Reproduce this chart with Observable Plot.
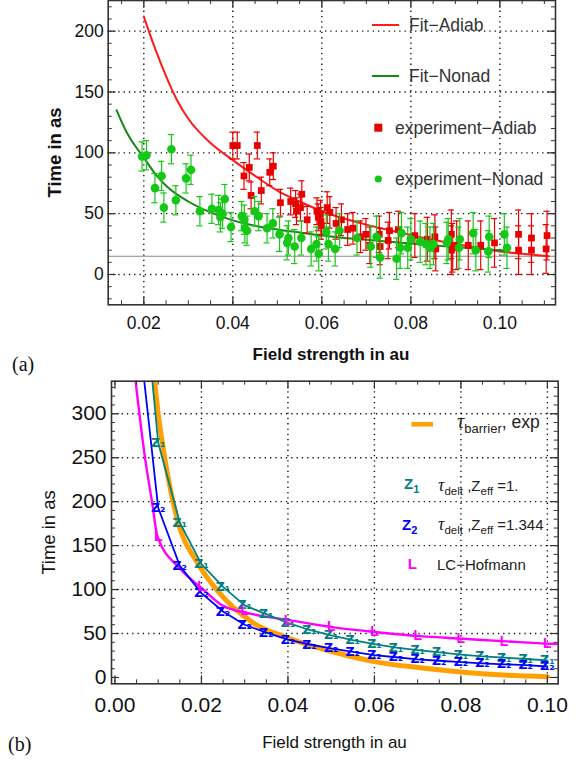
<!DOCTYPE html>
<html><head><meta charset="utf-8">
<script src="https://cdn.jsdelivr.net/npm/d3@7"></script>
<script src="https://cdn.jsdelivr.net/npm/@observablehq/plot@0.6"></script>
<style>
html,body{margin:0;padding:0;background:#fff;}
#wrap{position:relative;width:580px;height:768px;overflow:hidden;font-family:"Liberation Sans",Arial,sans-serif;}
#wrap > svg{position:absolute;left:0;}
</style></head><body><div id="wrap"></div>
<script>
// ---------- Panel (a) data ----------
const redF = [0.0400,0.0410,0.0425,0.0437,0.0441,0.0455,0.0464,0.0483,0.0491,0.0507,0.0530,0.0541,0.0543,0.0552,0.0555,0.0567,0.0589,0.0592,0.0597,0.0598,0.0599,0.0612,0.0618,0.0632,0.0644,0.0658,0.0670,0.0687,0.0699,0.0708,0.0729,0.0731,0.0749,0.0752,0.0772,0.0809,0.0837,0.0854,0.0856,0.0891,0.0891,0.0894,0.0903,0.0929,0.0957,0.0988,0.1042,0.1042,0.1071,0.1071,0.1104,0.1106];
const redT = [106,106,81,88,65,106,69,84,89,59,60,58,52,55,66,45,52,47,50,44,40,55,51,42,45,37,38,31,33,24,33,23,28,36,37,32,29,31,21,20,33,22,24,24,24,26,33,20,30,20,21,32];
const redErr = [11,11,11,11,11,11,11,11,11,11,11,11,11,11,11,11,11,11,11,11,11,13,13,13,13,13,13,13,13,15,15,15,15,15,15,18,18,18,18,20,20,20,20,20,20,20,20,20,20,20,20,20];

const greenF = [0.0196,0.0206,0.0225,0.0240,0.0245,0.0262,0.0272,0.0295,0.0306,0.0326,0.0353,0.0368,0.0372,0.0377,0.0382,0.0396,0.0420,0.0426,0.0427,0.0432,0.0449,0.0458,0.0477,0.0490,0.0505,0.0522,0.0525,0.0539,0.0554,0.0576,0.0588,0.0593,0.0610,0.0615,0.0630,0.0640,0.0679,0.0710,0.0723,0.0731,0.0768,0.0776,0.0779,0.0793,0.0800,0.0821,0.0834,0.0843,0.0851,0.0881,0.0884,0.0908,0.0910,0.0940,0.0946,0.0974,0.0976,0.1010,0.1016];
const greenT = [97,98,71,81,55,103,61,79,86,52,54,53,47,50,62,39,48,45,38,36,52,48,38,42,33,26,30,23,30,21,25,17,35,25,21,36,30,23,31,14,13,22,34,22,29,27,25,22,25,26,29,22,29,34,20,19,31,33,22];
const greenErr = [12,12,12,12,12,12,12,12,12,12,12,12,12,12,12,12,12,12,12,12,12,12,12,12,14,14,14,14,14,14,14,14,14,14,14,14,14,17,17,17,17,17,17,17,17,17,17,17,17,17,17,17,17,17,17,17,17,17,17];

const fitAdiabF = [0.020,0.0225,0.025,0.0275,0.030,0.035,0.040,0.045,0.050,0.055,0.060,0.065,0.070,0.075,0.080,0.085,0.090,0.095,0.100,0.105,0.111];
const fitAdiabT = [212,186,163,143,128,108,94,81,69,60,52,46,41,36.5,32.5,28.5,25,22,19,17,15];
const fitNonadF = [0.0139,0.016,0.018,0.020,0.0225,0.025,0.030,0.035,0.040,0.045,0.050,0.055,0.060,0.065,0.070,0.080,0.090,0.100,0.102];
const fitNonadT = [135,118,106,96,83,73,60,51,44.5,40,37,34.5,32,30,28.5,25.5,22.5,20,19.5];
const baselineA = [15];

const xTicksA = [0.02,0.04,0.06,0.08,0.10];
const yTicksA = [0,50,100,150,200];

// ---------- Panel (b) data ----------
const stepF = [0.010,0.015,0.020,0.025,0.030,0.035,0.040,0.045,0.050,0.055,0.060,0.065,0.070,0.075,0.080,0.085,0.090,0.095,0.100];
const z1T = [267,176,129,103,82,72,62,54,48,42.5,38,34,31,28.5,26,24,22.5,21,19.5];
const z2T = [193,127,96,75,60,51,43,37.5,33,29,25.5,23,20.5,19,17.5,16,15,14,12.5];
const z1LeadF = 0.0085, z1LeadT = 345;
const z2LeadF = 0.0066, z2LeadT = 345;

const barrierF = [0.0091,0.0100,0.0113,0.0144,0.0190,0.0240,0.0317,0.0406,0.0506,0.0606,0.0706,0.0806,0.0907,0.1000];
const barrierT = [340,300,256,180,131,97,63,44,29,17.5,11,6,2.5,0.8];

const hofF = [0.0047,0.0070,0.0086,0.0098,0.0148,0.0202,0.0248,0.0310,0.0406,0.0506,0.0606,0.0706,0.0806,0.0907,0.1007,0.1025];
const hofT = [340,248,199,161,125,101,82,73,65,57,51.5,47,44,41,38.3,38];
const hofMarkF = [0.01,0.02,0.03,0.04,0.05,0.06,0.07,0.08,0.09,0.10];
const hofMarkT = [160,104,76,65,58,52,47.5,44,41,38.5];

const xTicksB = [0.00,0.02,0.04,0.06,0.08,0.10];
const yTicksB = [0,50,100,150,200,250,300];

// ---------- colours ----------
const cRedLine = "#ff1a1a", cRed = "#e80000", cGreenLine = "#148a14", cGreen = "#16c816";
const cOrange = "#ffa000", cTeal = "#008080", cBlue = "#0000ff", cMag = "#ff00ff";
const frameC = "#333";
const gridStyle = {stroke:"#111", strokeOpacity:1, strokeWidth:1.4, strokeDasharray:"1.3,4"};

const zip = (F, T, E) => F.map((f,i) => ({f, t:T[i], e: E ? E[i] : 0}));
const redPts = zip(redF, redT, redErr);
const greenPts = zip(greenF, greenT, greenErr);
const fitA = zip(fitAdiabF, fitAdiabT);
const fitN = zip(fitNonadF, fitNonadT);

const W = 580;
const capA = 0.0007;

// ---- chart (a) ----
const hA = 375, mtA = 0, mbA = 70.7, mlA = 107.7, mrA = 25;
const ihA = hA - mtA - mbA, iwA = W - mlA - mrA;
const xMinorA = d3.range(0.015, 0.1125, 0.005);
const yMinorA = d3.range(-20, 225, 10);

const chartA = Plot.plot({
  width: W, height: hA, marginLeft: mlA, marginRight: mrA, marginTop: mtA, marginBottom: mbA,
  x: {domain: [0.0120, 0.1125]},
  y: {domain: [-24.9, 225.2]},
  style: {background: "transparent", color: "#111", fontFamily: "Liberation Sans, Arial, sans-serif", fontSize: "17.5px"},
  marks: [
    Plot.ruleX(xTicksA, gridStyle),
    Plot.ruleY(yTicksA, gridStyle),
    Plot.ruleY(baselineA, {stroke: "#8a8a8a", strokeWidth: 1.1}),
    Plot.line(fitA, {x: "f", y: "t", stroke: cRedLine, strokeWidth: 2, curve: "monotone-x"}),
    Plot.line(fitN, {x: "f", y: "t", stroke: cGreenLine, strokeWidth: 2, curve: "monotone-x"}),
    Plot.ruleX(redPts, {x: "f", y1: d => d.t - d.e, y2: d => d.t + d.e, stroke: cRed, strokeWidth: 1.2}),
    Plot.ruleY(redPts, {y: d => d.t + d.e, x1: d => d.f - capA, x2: d => d.f + capA, stroke: cRed, strokeWidth: 1.2}),
    Plot.ruleY(redPts, {y: d => d.t - d.e, x1: d => d.f - capA, x2: d => d.f + capA, stroke: cRed, strokeWidth: 1.2}),
    Plot.dot(redPts, {x: "f", y: "t", symbol: "square", r: 3.8, fill: cRed, stroke: null}),
    Plot.ruleX(greenPts, {x: "f", y1: d => d.t - d.e, y2: d => d.t + d.e, stroke: cGreen, strokeWidth: 1.2}),
    Plot.ruleY(greenPts, {y: d => d.t + d.e, x1: d => d.f - capA, x2: d => d.f + capA, stroke: cGreen, strokeWidth: 1.2}),
    Plot.ruleY(greenPts, {y: d => d.t - d.e, x1: d => d.f - capA, x2: d => d.f + capA, stroke: cGreen, strokeWidth: 1.2}),
    Plot.dot(greenPts, {x: "f", y: "t", r: 4.3, fill: cGreen, stroke: null}),
    // inward frame ticks
    Plot.tickX(xMinorA, {insetTop: ihA - 4, stroke: frameC}),
    Plot.tickX(xMinorA, {insetBottom: ihA - 4, stroke: frameC}),
    Plot.tickX(xTicksA, {insetTop: ihA - 8, stroke: frameC, strokeWidth: 1.2}),
    Plot.tickX(xTicksA, {insetBottom: ihA - 8, stroke: frameC, strokeWidth: 1.2}),
    Plot.tickY(yMinorA, {insetRight: iwA - 4, stroke: frameC}),
    Plot.tickY(yMinorA, {insetLeft: iwA - 4, stroke: frameC}),
    Plot.tickY(yTicksA, {insetRight: iwA - 8, stroke: frameC, strokeWidth: 1.2}),
    Plot.tickY(yTicksA, {insetLeft: iwA - 8, stroke: frameC, strokeWidth: 1.2}),
    Plot.frame({stroke: frameC, strokeWidth: 1.6}),
    Plot.axisX({ticks: xTicksA, tickFormat: d3.format(".2f"), tickSize: 0, tickPadding: 12, label: null}),
    Plot.axisY({ticks: yTicksA, tickFormat: d3.format("d"), tickSize: 0, tickPadding: 4.5, label: null})
  ]
});
chartA.style.top = "0px";
document.getElementById("wrap").appendChild(chartA);

// ---- chart (b) ----
const hB = 393, mtB = 5.7, mbB = 84.7, mlB = 111, mrB = 22.3;
const ihB = hB - mtB - mbB, iwB = W - mlB - mrB;
const xMinorB = d3.range(0, 0.1025, 0.005);
const yMinorB = d3.range(0, 337, 10);

const z1Pts = zip(stepF, z1T);
const z2Pts = zip(stepF, z2T);
const z1Line = [{f: z1LeadF, t: z1LeadT}, ...z1Pts];
const z2Line = [{f: z2LeadF, t: z2LeadT}, ...z2Pts];
const barrier = zip(barrierF, barrierT);
const hof = zip(hofF, hofT);
const hofMarks = zip(hofMarkF, hofMarkT);

const markerFont = "DejaVu Sans, Liberation Sans, sans-serif";
const chartB = Plot.plot({
  width: W, height: hB, marginLeft: mlB, marginRight: mrB, marginTop: mtB, marginBottom: mbB,
  x: {domain: [-0.0008, 0.1025]},
  y: {domain: [-7.2, 337]},
  style: {background: "transparent", color: "#111", fontFamily: "Liberation Sans, Arial, sans-serif", fontSize: "21px"},
  marks: [
    Plot.ruleX(xTicksB.filter(d => d > 0), gridStyle),
    Plot.ruleY(yTicksB.filter(d => d > 0), gridStyle),
    Plot.line(barrier, {x: "f", y: "t", stroke: cOrange, strokeWidth: 5, curve: "monotone-x", clip: true}),
    Plot.line(hof, {x: "f", y: "t", stroke: cMag, strokeWidth: 2.4, curve: "monotone-x", clip: true}),
    Plot.line(z1Line, {x: "f", y: "t", stroke: cTeal, strokeWidth: 1.8, clip: true}),
    Plot.line(z2Line, {x: "f", y: "t", stroke: cBlue, strokeWidth: 1.8, clip: true}),
    Plot.text(z1Pts, {x: "f", y: "t", text: d => "Z₁", fill: cTeal, fontSize: 12.5, fontWeight: "bold", fontFamily: markerFont}),
    Plot.text(z2Pts, {x: "f", y: "t", text: d => "Z₂", fill: cBlue, fontSize: 12.5, fontWeight: "bold", fontFamily: markerFont}),
    Plot.text(hofMarks, {x: "f", y: "t", text: d => "L", fill: cMag, fontSize: 14, fontWeight: 600}),
    Plot.tickX(xMinorB, {insetTop: ihB - 4, stroke: frameC}),
    Plot.tickX(xMinorB, {insetBottom: ihB - 4, stroke: frameC}),
    Plot.tickX(xTicksB, {insetTop: ihB - 8, stroke: frameC, strokeWidth: 1.2}),
    Plot.tickX(xTicksB, {insetBottom: ihB - 8, stroke: frameC, strokeWidth: 1.2}),
    Plot.tickY(yMinorB, {insetRight: iwB - 4, stroke: frameC}),
    Plot.tickY(yMinorB, {insetLeft: iwB - 4, stroke: frameC}),
    Plot.tickY(yTicksB, {insetRight: iwB - 8, stroke: frameC, strokeWidth: 1.2}),
    Plot.tickY(yTicksB, {insetLeft: iwB - 8, stroke: frameC, strokeWidth: 1.2}),
    Plot.frame({stroke: frameC, strokeWidth: 1.6}),
    Plot.axisX({ticks: xTicksB, tickFormat: d3.format(".2f"), tickSize: 0, tickPadding: 13.5, label: null}),
    Plot.axisY({ticks: yTicksB, tickFormat: d3.format("d"), tickSize: 0, tickPadding: 5, label: null})
  ]
});
chartB.style.top = "375px";
document.getElementById("wrap").appendChild(chartB);

// ---- overlay: titles, legends, panel letters ----
const ns = "http://www.w3.org/2000/svg";
const ov = document.createElementNS(ns, "svg");
ov.setAttribute("width", W); ov.setAttribute("height", 768);
ov.style.top = "0px"; ov.style.pointerEvents = "none";
ov.setAttribute("font-family", "Liberation Sans, Arial, sans-serif");
ov.innerHTML = `
<text x="331" y="360" text-anchor="middle" font-size="17" font-weight="bold" fill="#111">Field strength in au</text>
<text transform="translate(61,152.5) rotate(-90)" text-anchor="middle" font-size="18.5" font-weight="bold" fill="#111">Time in as</text>
<text x="12" y="371" font-family="Liberation Serif, serif" font-size="20" fill="#111">(a)</text>

<line x1="372" x2="399" y1="25" y2="25" stroke="${cRedLine}" stroke-width="2"/>
<text x="409" y="31.3" font-size="17.5" fill="#333">Fit−Adiab</text>
<line x1="372" x2="399" y1="76" y2="76" stroke="${cGreenLine}" stroke-width="2"/>
<text x="409" y="82.3" font-size="17.5" fill="#333">Fit−Nonad</text>
<rect x="374.3" y="123.7" width="8" height="8" fill="${cRed}"/>
<text x="395" y="133.5" font-size="17.5" fill="#333">experiment−Adiab</text>
<circle cx="378.3" cy="179" r="3.6" fill="${cGreen}"/>
<text x="395" y="185" font-size="17.5" fill="#333">experiment−Nonad</text>

<text x="334.5" y="748" text-anchor="middle" font-size="17" fill="#111">Field strength in au</text>
<text transform="translate(55,532.5) rotate(-90)" text-anchor="middle" font-size="18.5" fill="#111">Time in as</text>
<text x="8" y="751" font-family="Liberation Serif, serif" font-size="20" fill="#111">(b)</text>

<line x1="411.5" x2="433" y1="424.3" y2="424.3" stroke="${cOrange}" stroke-width="4.5"/>
<text x="457" y="428" font-size="17.5" fill="#222"><tspan font-family="Liberation Serif, serif" font-style="italic" font-size="20">τ</tspan><tspan font-size="13" dy="5">barrier</tspan><tspan dy="-5">, exp</tspan></text>

<text x="404" y="488.7" font-size="15" font-weight="bold" fill="${cTeal}">Z<tspan font-size="11" dy="4">1</tspan></text>
<text x="438" y="491" font-size="15" fill="#222"><tspan font-family="Liberation Serif, serif" font-style="italic" font-size="18">τ</tspan><tspan font-size="11.5" dy="4">delt</tspan><tspan dy="-4"> ,Z</tspan><tspan font-size="11.5" dy="4">eff</tspan><tspan dy="-4"> =1.</tspan></text>

<text x="402" y="529.5" font-size="15" font-weight="bold" fill="${cBlue}">Z<tspan font-size="11" dy="4">2</tspan></text>
<text x="438" y="530" font-size="15" fill="#222"><tspan font-family="Liberation Serif, serif" font-style="italic" font-size="18">τ</tspan><tspan font-size="11.5" dy="4">delt</tspan><tspan dy="-4"> ,Z</tspan><tspan font-size="11.5" dy="4">eff</tspan><tspan dy="-4"> =1.344</tspan></text>

<text x="412.3" y="568.7" text-anchor="middle" font-size="15" font-weight="600" fill="${cMag}">L</text>
<text x="437" y="570" font-size="15" fill="#222">LC−Hofmann</text>
`;
document.getElementById("wrap").appendChild(ov);
</script></body></html>
